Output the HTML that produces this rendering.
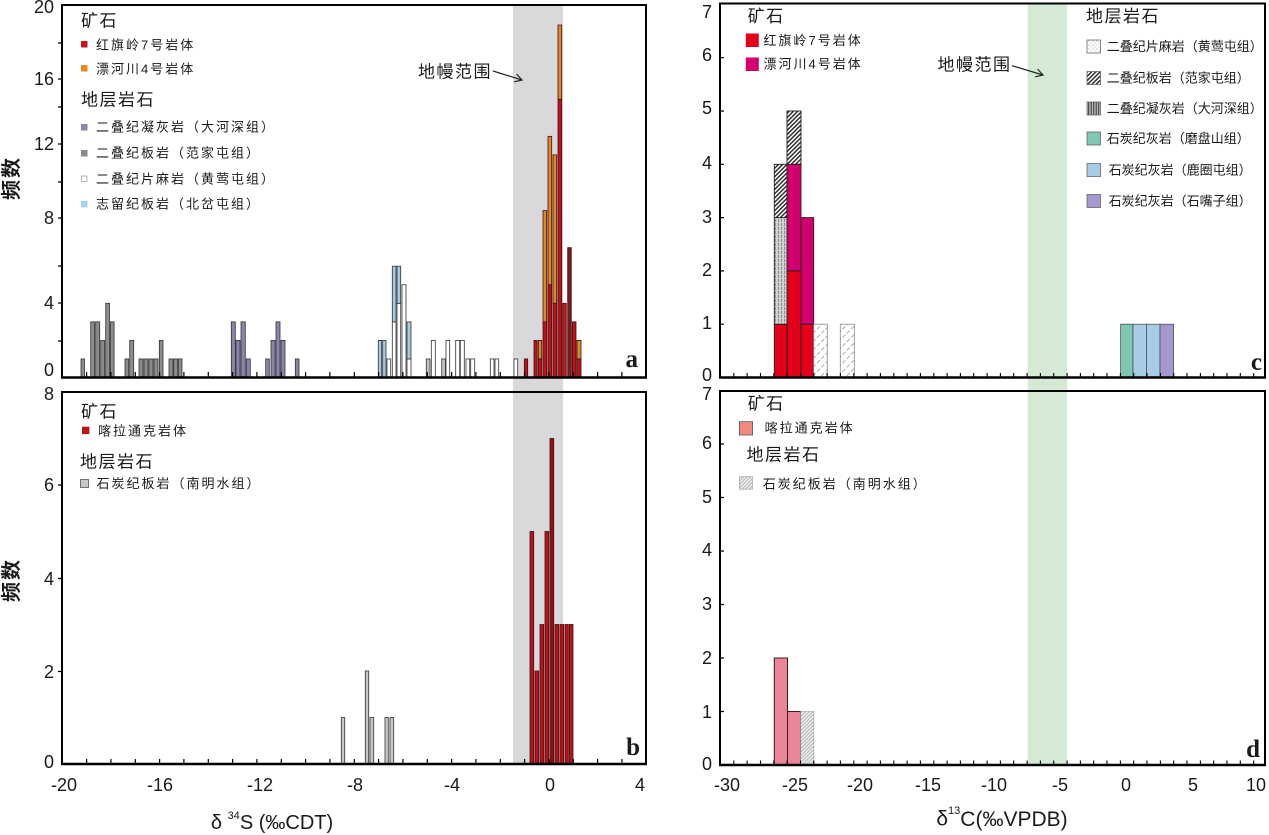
<!DOCTYPE html>
<html><head><meta charset="utf-8"><style>
html,body{margin:0;padding:0;background:#fff;width:1269px;height:835px;overflow:hidden}
svg{display:block}
text{font-family:"Liberation Sans","Noto Sans CJK SC",sans-serif;fill:#1a1a1a}
.cjk{font-family:"Liberation Sans","Noto Sans CJK SC",sans-serif}
.hd{font-size:17px;letter-spacing:1.5px}
.lg{font-size:13px;letter-spacing:2px}
.tk{font-size:18px}
.pl{font-family:"Liberation Serif",serif;font-weight:bold;font-size:25px}
</style></head><body>
<svg width="1269" height="835" viewBox="0 0 1269 835" xmlns="http://www.w3.org/2000/svg">
<defs>
<pattern id="slate" patternUnits="userSpaceOnUse" width="3" height="3" patternTransform="rotate(45)">
<rect width="3" height="3" fill="#fff"/><line x1="0.7" y1="0" x2="0.7" y2="3" stroke="#222" stroke-width="1.4"/></pattern>
<pattern id="tuff" patternUnits="userSpaceOnUse" width="3" height="4">
<rect width="3" height="4" fill="#d2d2d2"/><line x1="1.5" y1="0" x2="1.5" y2="4" stroke="#777" stroke-width="0.8" stroke-dasharray="2,1"/></pattern>
<pattern id="tuffL" patternUnits="userSpaceOnUse" width="2.5" height="4">
<rect width="2.5" height="4" fill="#bbb"/><line x1="1.2" y1="0" x2="1.2" y2="4" stroke="#333" stroke-width="1"/></pattern>
<pattern id="gneiss" patternUnits="userSpaceOnUse" width="6" height="6" patternTransform="rotate(45)">
<rect width="6" height="6" fill="#fff"/><line x1="0.5" y1="0" x2="0.5" y2="6" stroke="#888" stroke-width="0.7" stroke-dasharray="3,2"/></pattern>
<pattern id="gdot" patternUnits="userSpaceOnUse" width="4" height="4">
<rect width="4" height="4" fill="#fff"/><circle cx="1" cy="1" r="0.5" fill="#777"/><circle cx="3" cy="3" r="0.5" fill="#999"/></pattern>
<pattern id="dh" patternUnits="userSpaceOnUse" width="2.5" height="2.5" patternTransform="rotate(45)">
<rect width="2.5" height="2.5" fill="#f0f0f0"/><line x1="0.5" y1="0" x2="0.5" y2="2.5" stroke="#aaa" stroke-width="0.9"/></pattern>
</defs>

<!-- bands -->
<rect x="513" y="5" width="50" height="759" fill="#d9d9dc"/>
<rect x="1027.7" y="3.5" width="39.5" height="761.5" fill="#d4ead5"/>

<!-- ================= PANEL A bars ================= -->
<g stroke="#333" stroke-width="0.8" fill="#8c8c8c">
<rect x="81" y="358.95" width="3.5" height="18.55"/>
<rect x="90.7" y="321.85" width="4" height="55.65"/>
<rect x="95.7" y="321.85" width="4" height="55.65"/>
<rect x="100.7" y="340.4" width="4" height="37.1"/>
<rect x="105.7" y="303.3" width="3.8" height="74.2"/>
<rect x="110.3" y="321.85" width="3.8" height="55.65"/>
<rect x="125" y="358.95" width="3.7" height="18.55"/>
<rect x="129.7" y="340.4" width="4" height="37.1"/>
<rect x="139" y="358.95" width="4" height="18.55"/>
<rect x="144" y="358.95" width="4" height="18.55"/>
<rect x="149" y="358.95" width="4" height="18.55"/>
<rect x="154" y="358.95" width="4" height="18.55"/>
<rect x="159.3" y="340.4" width="3.7" height="37.1"/>
<rect x="169" y="358.95" width="4" height="18.55"/>
<rect x="173.7" y="358.95" width="4" height="18.55"/>
<rect x="178.3" y="358.95" width="3.7" height="18.55"/>
</g>
<g stroke="#333" stroke-width="0.8" fill="#8a85ab">
<rect x="231.3" y="321.85" width="4" height="55.65"/>
<rect x="236" y="340.4" width="4" height="37.1"/>
<rect x="241" y="321.85" width="4.3" height="55.65"/>
<rect x="246.3" y="358.95" width="4" height="18.55"/>
<rect x="265.7" y="358.95" width="3.6" height="18.55"/>
<rect x="271" y="340.4" width="4" height="37.1"/>
<rect x="276" y="321.85" width="4" height="55.65"/>
<rect x="281" y="340.4" width="4" height="37.1"/>
<rect x="295.3" y="358.95" width="3.7" height="18.55"/>
</g>
<g stroke="#333" stroke-width="0.8">
<rect x="378.3" y="340.4" width="3.4" height="37.1" fill="#a6cbe0"/>
<rect x="382.7" y="340.4" width="3.3" height="37.1" fill="#a6cbe0"/>
<rect x="387" y="358.95" width="3.7" height="18.55" fill="#fff"/>
<rect x="392.3" y="321.85" width="3.7" height="55.65" fill="#fff"/>
<rect x="392.3" y="266.2" width="3.7" height="55.65" fill="#a6cbe0"/>
<rect x="397" y="303.3" width="3.7" height="74.2" fill="#fff"/>
<rect x="397" y="266.2" width="3.7" height="37.1" fill="#a6cbe0"/>
<rect x="402" y="284.75" width="4" height="92.75" fill="#fff"/>
<rect x="407" y="358.95" width="4" height="18.55" fill="#fff"/>
<rect x="407" y="321.85" width="4" height="37.1" fill="#a6cbe0"/>
<rect x="426.3" y="358.95" width="3.7" height="18.55" fill="#c4c4c4"/>
<rect x="431.3" y="340.4" width="4" height="37.1" fill="#fff"/>
<rect x="441.7" y="358.95" width="3.6" height="18.55" fill="#c4c4c4"/>
<rect x="446" y="340.4" width="3.7" height="37.1" fill="#fff"/>
<rect x="455.7" y="340.4" width="4" height="37.1" fill="#fff"/>
<rect x="460.3" y="340.4" width="4" height="37.1" fill="#fff"/>
<rect x="466" y="358.95" width="3.7" height="18.55" fill="#fff"/>
<rect x="470.7" y="358.95" width="4" height="18.55" fill="#fff"/>
<rect x="490.3" y="358.95" width="3.7" height="18.55" fill="#fff"/>
<rect x="495" y="358.95" width="3.7" height="18.55" fill="#fff"/>
<rect x="514" y="358.95" width="3.7" height="18.55" fill="#fff"/>
</g>
<g stroke="#4a0a0a" stroke-width="0.8">
<rect x="524.3" y="358.95" width="3.4" height="18.55" fill="#b8161e"/>
<rect x="534" y="340.4" width="3.2" height="37.1" fill="#b8161e"/>
<rect x="538.3" y="358.95" width="3.4" height="18.55" fill="#b8161e"/>
<rect x="538.3" y="340.4" width="3.4" height="18.55" fill="#d98a2e"/>
<rect x="543" y="321.85" width="3.7" height="55.65" fill="#b8161e"/>
<rect x="543" y="210.55" width="3.7" height="111.3" fill="#d98a2e"/>
<rect x="548" y="284.75" width="3.7" height="92.75" fill="#b8161e"/>
<rect x="548" y="136.35" width="3.7" height="148.4" fill="#d98a2e"/>
<rect x="553" y="303.3" width="3.7" height="74.2" fill="#b8161e"/>
<rect x="553" y="154.9" width="3.7" height="148.4" fill="#d98a2e"/>
<rect x="558" y="99.25" width="3.7" height="278.25" fill="#b8161e"/>
<rect x="558" y="25.05" width="3.7" height="74.2" fill="#d98a2e"/>
<rect x="562.7" y="303.3" width="3.6" height="74.2" fill="#c01820"/>
<rect x="567.7" y="247.65" width="3.6" height="129.85" fill="#7a1c1c"/>
<rect x="572.3" y="321.85" width="3.7" height="55.65" fill="#b8161e"/>
<rect x="577" y="358.95" width="4" height="18.55" fill="#b8161e"/>
<rect x="577" y="340.4" width="4" height="18.55" fill="#d98a2e"/>
</g>

<!-- ================= PANEL B bars ================= -->
<g stroke="#333" stroke-width="0.8" fill="#c8c8c8">
<rect x="341.3" y="717.5" width="3.4" height="46.5"/>
<rect x="365.3" y="671" width="3.4" height="93"/>
<rect x="370" y="717.5" width="3.7" height="46.5"/>
<rect x="385" y="717.5" width="3.3" height="46.5"/>
<rect x="390" y="717.5" width="3.7" height="46.5"/>
</g>
<g stroke="#4a0a0a" stroke-width="0.8" fill="#b3161e">
<rect x="530" y="531.5" width="3.7" height="232.5"/>
<rect x="535" y="671" width="3.7" height="93"/>
<rect x="540" y="624.5" width="3.7" height="139.5"/>
<rect x="545" y="531.5" width="3.7" height="232.5"/>
<rect x="550" y="438.5" width="3.7" height="325.5" fill="#8c1418"/>
<rect x="555" y="624.5" width="3.7" height="139.5"/>
<rect x="560" y="624.5" width="3.7" height="139.5"/>
<rect x="565" y="624.5" width="3.3" height="139.5"/>
<rect x="569.3" y="624.5" width="3.7" height="139.5"/>
</g>

<!-- ================= PANEL C bars ================= -->
<g stroke="#222" stroke-width="0.9">
<rect x="774.3" y="324.2" width="12.7" height="53.3" fill="#e3001c"/>
<rect x="774.3" y="217.6" width="12.7" height="106.6" fill="url(#tuff)"/>
<rect x="774.3" y="164.3" width="12.7" height="53.3" fill="url(#slate)"/>
<rect x="787" y="270.9" width="14" height="106.6" fill="#e3001c"/>
<rect x="787" y="164.3" width="14" height="106.6" fill="#d0006f"/>
<rect x="787" y="111" width="14" height="53.3" fill="url(#slate)"/>
<rect x="801" y="324.2" width="12.7" height="53.3" fill="#e3001c"/>
<rect x="801" y="217.6" width="12.7" height="106.6" fill="#d0006f"/>
</g>
<g stroke="#888" stroke-width="0.8">
<rect x="813.7" y="324.2" width="13.6" height="53.3" fill="url(#gneiss)"/>
<rect x="840.3" y="324.2" width="14" height="53.3" fill="url(#gneiss)"/>
</g>
<g stroke="#444" stroke-width="0.7">
<rect x="1120.6" y="324.2" width="12.4" height="53.3" fill="#7fc7b2"/>
<rect x="1133" y="324.2" width="13.5" height="53.3" fill="#a7cde6"/>
<rect x="1146.5" y="324.2" width="13.5" height="53.3" fill="#a7cde6"/>
<rect x="1160" y="324.2" width="13.6" height="53.3" fill="#a598cf"/>
</g>

<!-- ================= PANEL D bars ================= -->
<g stroke="#3a1a1a" stroke-width="1">
<rect x="774.3" y="658" width="13.2" height="107" fill="#ea8697"/>
<rect x="787.5" y="711.5" width="13.2" height="53.5" fill="#ea8697"/>
</g>
<rect x="800.7" y="711.5" width="13.1" height="53.5" fill="url(#dh)" stroke="#aaa" stroke-width="0.7"/>

<!-- ================= Frames ================= -->
<g fill="none" stroke="#000">
<rect x="62" y="5" width="584" height="372.5" stroke-width="2"/>
<line x1="61" y1="377.5" x2="647" y2="377.5" stroke-width="2.6"/>
<rect x="62" y="392" width="584" height="372" stroke-width="2"/>
<line x1="61" y1="764" x2="647" y2="764" stroke-width="2.6"/>
<rect x="720" y="3.5" width="545" height="374" stroke-width="2"/>
<line x1="719" y1="377.5" x2="1266" y2="377.5" stroke-width="2.6"/>
<rect x="720" y="391" width="545" height="374" stroke-width="2"/>
<line x1="719" y1="765" x2="1266" y2="765" stroke-width="2.6"/>
</g>

<!-- x ticks a/b -->
<g stroke="#000" stroke-width="1.2">
<path d="M86.6 377v-5M110.9 377v-5M135.3 377v-5M159.6 377v-5M183.9 377v-5M208.3 377v-5M232.6 377v-5M256.9 377v-5M281.3 377v-5M305.6 377v-5M329.9 377v-5M354.3 377v-5M378.6 377v-5M402.9 377v-5M427.3 377v-5M451.6 377v-5M475.9 377v-5M500.3 377v-5M524.6 377v-5M548.9 377v-5M573.3 377v-5M597.6 377v-5M621.9 377v-5"/>
<path d="M86.6 764v-5M110.9 764v-5M135.3 764v-5M159.6 764v-5M183.9 764v-5M208.3 764v-5M232.6 764v-5M256.9 764v-5M281.3 764v-5M305.6 764v-5M329.9 764v-5M354.3 764v-5M378.6 764v-5M402.9 764v-5M427.3 764v-5M451.6 764v-5M475.9 764v-5M500.3 764v-5M524.6 764v-5M548.9 764v-5M573.3 764v-5M597.6 764v-5M621.9 764v-5"/>
<!-- y ticks a -->
<path d="M58 43h4M58 79h4M58 107h4M58 144h4M58 182h4M58 218h4M58 266h4M58 303h4M58 341h4"/>
<!-- y ticks b -->
<path d="M58 485h4M58 578.5h4M58 671.5h4"/>
<!-- y ticks c/d -->
<path d="M720 324.2h4M720 270.9h4M720 217.6h4M720 164.3h4M720 111h4M720 57.7h4"/>
<path d="M720 711.5h4M720 658h4M720 604.5h4M720 551h4M720 497.5h4M720 444h4"/>
</g>
<!-- x ticks c/d -->
<g stroke="#000" stroke-width="1.1">
<path d="M733.8 377v-4M747.1 377v-4M760.5 377v-4M773.8 377v-4M787.1 377v-4M800.5 377v-4M813.8 377v-4M827.1 377v-4M840.4 377v-4M853.8 377v-4M867.1 377v-4M880.4 377v-4M893.8 377v-4M907.1 377v-4M920.4 377v-4M933.8 377v-4M947.1 377v-4M960.4 377v-4M973.7 377v-4M987.1 377v-4M1000.4 377v-4M1013.7 377v-4M1027.1 377v-4M1040.4 377v-4M1053.7 377v-4M1067.1 377v-4M1080.4 377v-4M1093.7 377v-4M1107 377v-4M1120.4 377v-4M1133.7 377v-4M1147 377v-4M1160.4 377v-4M1173.7 377v-4M1187 377v-4M1200.4 377v-4M1213.7 377v-4M1227 377v-4M1240.3 377v-4M1253.7 377v-4"/>
<path d="M733.8 764.5v-4M747.1 764.5v-4M760.5 764.5v-4M773.8 764.5v-4M787.1 764.5v-4M800.5 764.5v-4M813.8 764.5v-4M827.1 764.5v-4M840.4 764.5v-4M853.8 764.5v-4M867.1 764.5v-4M880.4 764.5v-4M893.8 764.5v-4M907.1 764.5v-4M920.4 764.5v-4M933.8 764.5v-4M947.1 764.5v-4M960.4 764.5v-4M973.7 764.5v-4M987.1 764.5v-4M1000.4 764.5v-4M1013.7 764.5v-4M1027.1 764.5v-4M1040.4 764.5v-4M1053.7 764.5v-4M1067.1 764.5v-4M1080.4 764.5v-4M1093.7 764.5v-4M1107 764.5v-4M1120.4 764.5v-4M1133.7 764.5v-4M1147 764.5v-4M1160.4 764.5v-4M1173.7 764.5v-4M1187 764.5v-4M1200.4 764.5v-4M1213.7 764.5v-4M1227 764.5v-4M1240.3 764.5v-4M1253.7 764.5v-4"/>
</g>

<!-- y tick labels -->
<g class="tk" text-anchor="end" dominant-baseline="central">
<text x="54" y="7">20</text><text x="54" y="79">16</text><text x="54" y="144">12</text><text x="54" y="218">8</text><text x="54" y="303">4</text><text x="54" y="370">0</text>
<text x="54" y="394">8</text><text x="54" y="485">6</text><text x="54" y="579">4</text><text x="54" y="672">2</text><text x="54" y="762">0</text>
<text x="712" y="12">7</text><text x="712" y="55">6</text><text x="712" y="108">5</text><text x="712" y="163">4</text><text x="712" y="217">3</text><text x="712" y="270">2</text><text x="712" y="323">1</text><text x="712" y="375">0</text>
<text x="712" y="394">7</text><text x="712" y="443">6</text><text x="712" y="497">5</text><text x="712" y="550">4</text><text x="712" y="604">3</text><text x="712" y="658">2</text><text x="712" y="712">1</text><text x="712" y="764">0</text>
</g>
<!-- x tick labels -->
<g class="tk" text-anchor="middle" dominant-baseline="central">
<text x="64" y="785">-20</text><text x="160" y="785">-16</text><text x="260" y="785">-12</text><text x="355" y="785">-8</text><text x="452" y="785">-4</text><text x="550" y="785">0</text><text x="640" y="785">4</text>
<text x="727" y="785">-30</text><text x="795" y="785">-25</text><text x="860" y="785">-20</text><text x="928" y="785">-15</text><text x="994" y="785">-10</text><text x="1060" y="785">-5</text><text x="1126" y="785">0</text><text x="1193" y="785">5</text><text x="1256" y="785">10</text>
</g>

<!-- axis titles -->
<text x="272" y="823" text-anchor="middle" dominant-baseline="central" font-size="20">δ <tspan font-size="11" dy="-7">34</tspan><tspan dy="7">S (‰CDT)</tspan></text>
<text x="1002" y="819" text-anchor="middle" dominant-baseline="central" font-size="21">δ<tspan font-size="11" dy="-8">13</tspan><tspan dy="8">C(‰VPDB)</tspan></text>
<text transform="translate(12,178) rotate(-90)" text-anchor="middle" dominant-baseline="central" font-size="20" font-weight="bold" letter-spacing="2">频数</text>
<text transform="translate(12,580) rotate(-90)" text-anchor="middle" dominant-baseline="central" font-size="20" font-weight="bold" letter-spacing="2">频数</text>

<!-- panel letters -->
<text class="pl" x="638" y="367" text-anchor="end">a</text>
<text class="pl" x="640" y="755" text-anchor="end">b</text>
<text class="pl" x="1262" y="370" text-anchor="end">c</text>
<text class="pl" x="1260" y="757" text-anchor="end">d</text>

<!-- mantle annotations -->
<text class="hd" x="418" y="72" dominant-baseline="central">地幔范围</text>
<g fill="none" stroke="#222" stroke-width="1.2">
<line x1="493" y1="71" x2="522" y2="80"/><polyline points="516.6,74.1 522,80 514.2,81.8"/>
<line x1="1012" y1="65.7" x2="1043" y2="75"/><polyline points="1037.6,69.1 1043,75 1035.2,76.8"/>
</g>
<text class="hd" x="937.5" y="65" dominant-baseline="central">地幔范围</text>

<!-- legend A -->
<g dominant-baseline="central">
<text class="hd" x="81" y="21">矿石</text>
<rect x="81" y="41" width="6.5" height="6.5" fill="#c8141e"/>
<text class="lg" x="96" y="45">红旗岭7号岩体</text>
<rect x="81" y="65" width="6.5" height="6.5" fill="#e8891c"/>
<text class="lg" x="96" y="69">漂河川4号岩体</text>
<text class="hd" x="81" y="100">地层岩石</text>
<rect x="81" y="124" width="6.5" height="6.5" fill="#8985ad"/>
<text class="lg" x="96" y="127">二叠纪凝灰岩（大河深组）</text>
<rect x="81" y="150" width="6.5" height="6.5" fill="#8a8a8a"/>
<text class="lg" x="96" y="153">二叠纪板岩（范家屯组）</text>
<rect x="81.5" y="176" width="5.5" height="5.5" fill="#fff" stroke="#999" stroke-width="0.7"/>
<text class="lg" x="96" y="179">二叠纪片麻岩（黄莺屯组）</text>
<rect x="81" y="201" width="6.5" height="6.5" fill="#a8d4ec"/>
<text class="lg" x="96" y="204">志留纪板岩（北岔屯组）</text>
</g>

<!-- legend B -->
<g dominant-baseline="central">
<text class="hd" x="81" y="412">矿石</text>
<rect x="82" y="426.7" width="7.4" height="7.4" fill="#b8161e"/>
<text class="lg" x="98" y="431">喀拉通克岩体</text>
<text class="hd" x="80" y="462">地层岩石</text>
<rect x="80.5" y="479.5" width="8" height="8" fill="#c8c8c8" stroke="#555" stroke-width="0.8"/>
<text class="lg" x="96.5" y="483.5" letter-spacing="1.5">石炭纪板岩（南明水组）</text>
</g>

<!-- legend C -->
<g dominant-baseline="central">
<text class="hd" x="747.7" y="16.5">矿石</text>
<rect x="745.8" y="33.5" width="13" height="13.5" fill="#e3001c"/>
<text class="lg" x="763.5" y="40.5" letter-spacing="1.7">红旗岭7号岩体</text>
<rect x="745.8" y="57.5" width="13" height="13.5" fill="#d0006f"/>
<text class="lg" x="763.5" y="64" letter-spacing="1.7">漂河川4号岩体</text>
<text class="hd" x="1086" y="16.5">地层岩石</text>
<g stroke="#666" stroke-width="0.8">
<rect x="1087" y="40" width="13.5" height="13" fill="url(#gdot)"/>
<rect x="1087" y="71.5" width="13.5" height="13" fill="url(#slate)"/>
<rect x="1087" y="102" width="13.5" height="13" fill="url(#tuffL)"/>
<rect x="1087" y="132" width="13.5" height="13" fill="#7fc7b2"/>
<rect x="1087" y="163.5" width="13.5" height="13" fill="#a7cde6"/>
<rect x="1087" y="194.5" width="13.5" height="13" fill="#a598cf"/>
</g>
<text x="1106.7" y="46.5" font-size="13">二叠纪片麻岩（黄莺屯组）</text>
<text x="1106.7" y="78" font-size="13">二叠纪板岩（范家屯组）</text>
<text x="1106.7" y="108.3" font-size="13">二叠纪凝灰岩（大河深组）</text>
<text x="1106.7" y="138.3" font-size="13">石炭纪灰岩（磨盘山组）</text>
<text x="1108.6" y="170" font-size="13">石炭纪灰岩（鹿圈屯组）</text>
<text x="1108.6" y="201" font-size="13">石炭纪灰岩（石嘴子组）</text>
</g>

<!-- legend D -->
<g dominant-baseline="central">
<text class="hd" x="747.7" y="404">矿石</text>
<rect x="739.4" y="421.7" width="13.2" height="13.3" fill="#f08a82" stroke="#555" stroke-width="0.8"/>
<text class="lg" x="764.6" y="428">喀拉通克岩体</text>
<text class="hd" x="746.5" y="455">地层岩石</text>
<rect x="739.4" y="476.7" width="13" height="12.5" fill="url(#dh)" stroke="#aaa" stroke-width="0.8"/>
<text class="lg" x="762.7" y="484" letter-spacing="1.7">石炭纪板岩（南明水组）</text>
</g>
</svg>
</body></html>
